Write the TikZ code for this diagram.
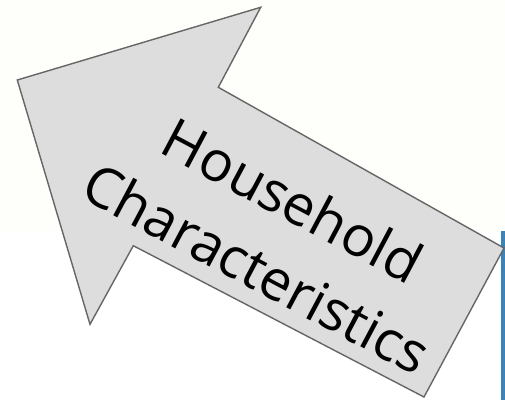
\documentclass[tikz,border=0pt]{standalone}
\usepackage{fontspec}
\setmainfont{Open Sans}
\definecolor{bgtop}{RGB}{254,254,250}
\definecolor{barblue}{RGB}{59,132,186}
\definecolor{arrowfill}{RGB}{221,221,221}
\definecolor{arrowline}{RGB}{102,102,102}
\tikzset{
  bigarrow/.style={fill=arrowfill, draw=arrowline, line width=1.4pt, line join=miter},
  arrowlabel/.style={align=center, rotate=-28, font=\fontsize{56}{77}\selectfont, inner sep=0pt}
}
\begin{document}
\begin{tikzpicture}[x=1pt,y=1pt]
\useasboundingbox (0,0) rectangle (505,400);
\fill[white] (0,0) rectangle (505,400);
\fill[bgtop] (0,169) rectangle (505,400);
\fill[barblue] (501,0) rectangle (505,169);
% arrow outline (image y -> 400-y)
\coordinate (tip) at (17.3,320);
\coordinate (headtop) at (260.7,392.7);
\coordinate (notchtop) at (218.3,312.7);
\coordinate (shafttr) at (504,152);
\coordinate (shaftbr) at (424,3);
\coordinate (notchbot) at (133.3,154.3);
\coordinate (headbot) at (90,75.7);
\draw[bigarrow] (tip) -- (headtop) -- (notchtop) -- (shafttr) -- (shaftbr) -- (notchbot) -- (headbot) -- cycle;
\node[arrowlabel] (lbl) at (275,166) {Household\\Characteristics};
\end{tikzpicture}
\end{document}
